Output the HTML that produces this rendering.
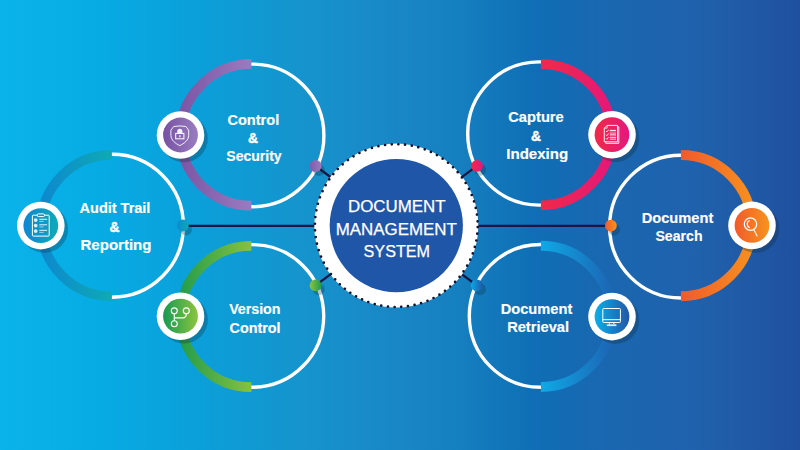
<!DOCTYPE html><html><head><meta charset="utf-8"><title>Document Management System</title><style>html,body{margin:0;padding:0;width:800px;height:450px;overflow:hidden;background:#1a80c0;}text{font-family:"Liberation Sans",sans-serif;fill:#fff;}</style></head><body><svg width="800" height="450" viewBox="0 0 800 450" style="display:block;font-family:'Liberation Sans',sans-serif;fill:#fff"><defs><linearGradient id="bg" x1="0" y1="0" x2="1" y2="0"><stop offset="0" stop-color="#0ab3ea"/><stop offset="0.125" stop-color="#07abe4"/><stop offset="0.25" stop-color="#0b9fd9"/><stop offset="0.375" stop-color="#1594cd"/><stop offset="0.5" stop-color="#1986c5"/><stop offset="0.57" stop-color="#1580c0"/><stop offset="0.67" stop-color="#0f6eb5"/><stop offset="0.76" stop-color="#1a67b0"/><stop offset="0.875" stop-color="#2061ac"/><stop offset="0.93" stop-color="#205aa6"/><stop offset="1" stop-color="#1f50a0"/></linearGradient><linearGradient id="gPur" gradientUnits="userSpaceOnUse" x1="175.2" y1="0" x2="251.4" y2="0"><stop offset="0" stop-color="#7853a3"/><stop offset="1" stop-color="#9b7bbf"/></linearGradient><linearGradient id="gTeal" gradientUnits="userSpaceOnUse" x1="35.7" y1="0" x2="111.9" y2="0"><stop offset="0" stop-color="#0d86d0"/><stop offset="1" stop-color="#0eaab4"/></linearGradient><linearGradient id="gGrn" gradientUnits="userSpaceOnUse" x1="175.2" y1="0" x2="251.4" y2="0"><stop offset="0" stop-color="#1d9a4c"/><stop offset="1" stop-color="#86c140"/></linearGradient><linearGradient id="gPink" gradientUnits="userSpaceOnUse" x1="540.9" y1="0" x2="617.1" y2="0"><stop offset="0" stop-color="#ef2a48"/><stop offset="1" stop-color="#e3177c"/></linearGradient><linearGradient id="gOrg" gradientUnits="userSpaceOnUse" x1="680.9" y1="0" x2="757.1" y2="0"><stop offset="0" stop-color="#f15a2b"/><stop offset="1" stop-color="#f7941d"/></linearGradient><linearGradient id="gBlu" gradientUnits="userSpaceOnUse" x1="540.9" y1="0" x2="617.1" y2="0"><stop offset="0" stop-color="#0fa9e6"/><stop offset="1" stop-color="#1d60b0"/></linearGradient><linearGradient id="iPur" x1="0" y1="0" x2="1" y2="0"><stop offset="0" stop-color="#7652a2"/><stop offset="1" stop-color="#9a7dc0"/></linearGradient><linearGradient id="iTeal" x1="0" y1="0" x2="1" y2="0"><stop offset="0" stop-color="#1186d2"/><stop offset="1" stop-color="#0faab6"/></linearGradient><linearGradient id="iGrn" x1="0" y1="0" x2="1" y2="0"><stop offset="0" stop-color="#169a52"/><stop offset="1" stop-color="#8cc43f"/></linearGradient><linearGradient id="iPink" x1="0" y1="0" x2="1" y2="0"><stop offset="0" stop-color="#ef2a48"/><stop offset="1" stop-color="#e5177c"/></linearGradient><linearGradient id="iOrg" x1="0" y1="0" x2="1" y2="0"><stop offset="0" stop-color="#f05a2b"/><stop offset="1" stop-color="#f7941d"/></linearGradient><linearGradient id="iBlu" x1="0" y1="0" x2="1" y2="0"><stop offset="0" stop-color="#0aafe9"/><stop offset="1" stop-color="#2357a8"/></linearGradient><linearGradient id="dPur" x1="0" y1="0" x2="1" y2="0"><stop offset="0" stop-color="#7f5aab"/><stop offset="1" stop-color="#9a7cc0"/></linearGradient><linearGradient id="dPink" x1="0" y1="0" x2="1" y2="0"><stop offset="0" stop-color="#ef2a48"/><stop offset="1" stop-color="#e3177c"/></linearGradient><linearGradient id="dGrn" x1="0" y1="0" x2="1" y2="0"><stop offset="0" stop-color="#8cc43f"/><stop offset="1" stop-color="#1d9a4c"/></linearGradient><linearGradient id="dBlu" x1="0" y1="0" x2="1" y2="0"><stop offset="0" stop-color="#0aa9e6"/><stop offset="1" stop-color="#2258a8"/></linearGradient><linearGradient id="dTeal" x1="0" y1="0" x2="1" y2="0"><stop offset="0" stop-color="#0a8ad2"/><stop offset="1" stop-color="#10a9b6"/></linearGradient><linearGradient id="dOrg" x1="0" y1="0" x2="1" y2="0"><stop offset="0" stop-color="#f15a2b"/><stop offset="1" stop-color="#f7941d"/></linearGradient><filter id="blur1" x="-50%" y="-50%" width="200%" height="200%"><feGaussianBlur stdDeviation="0.8"/></filter></defs><rect x="0" y="0" width="800" height="450" fill="url(#bg)"/>
<line x1="182.8" y1="225.8" x2="610.9" y2="225.8" stroke="#1b1540" stroke-width="2.2"/>
<line x1="315.6" y1="166.0" x2="396.3" y2="225.6" stroke="#1b1540" stroke-width="2.3"/>
<line x1="477.0" y1="165.8" x2="396.3" y2="225.6" stroke="#1b1540" stroke-width="2.3"/>
<line x1="315.6" y1="285.3" x2="396.3" y2="225.6" stroke="#1b1540" stroke-width="2.3"/>
<line x1="476.8" y1="285.3" x2="396.3" y2="225.6" stroke="#1b1540" stroke-width="2.3"/>
<circle cx="252.6" cy="135.4" r="71.3" fill="none" stroke="#fff" stroke-width="3.4"/>
<path d="M251.4,63.90 A70.90,70.90 0 0 0 251.4,205.70" fill="none" stroke="url(#gPur)" stroke-width="9.8"/>
<circle cx="111.9" cy="225.75" r="71.5" fill="none" stroke="#fff" stroke-width="3.4"/>
<path d="M111.9,154.90 A70.70,70.70 0 0 0 111.9,296.30" fill="none" stroke="url(#gTeal)" stroke-width="9.8"/>
<circle cx="252.4" cy="315.9" r="71.3" fill="none" stroke="#fff" stroke-width="3.4"/>
<path d="M251.4,245.80 A70.70,70.70 0 0 0 251.4,387.20" fill="none" stroke="url(#gGrn)" stroke-width="9.8"/>
<circle cx="539.3" cy="133.5" r="71.6" fill="none" stroke="#fff" stroke-width="3.4"/>
<path d="M540.9,64.10 A70.60,70.60 0 0 1 540.9,205.30" fill="none" stroke="url(#gPink)" stroke-width="9.8"/>
<circle cx="681.0" cy="226.6" r="71.4" fill="none" stroke="#fff" stroke-width="3.4"/>
<path d="M680.9,155.00 A70.62,70.62 0 0 1 680.9,296.25" fill="none" stroke="url(#gOrg)" stroke-width="9.8"/>
<circle cx="540.7" cy="315.9" r="71.4" fill="none" stroke="#fff" stroke-width="3.4"/>
<path d="M540.9,245.75 A70.62,70.62 0 0 1 540.9,387.00" fill="none" stroke="url(#gBlu)" stroke-width="9.8"/>
<circle cx="396.3" cy="225.6" r="82.0" fill="#fff"/>
<circle cx="396.3" cy="225.6" r="81.4" fill="none" stroke="#15112e" stroke-width="2.7" stroke-linecap="round" stroke-dasharray="0 6.7296" stroke-dashoffset="-1.5"/>
<circle cx="396.3" cy="225.6" r="66.6" fill="#1f56a7"/>
<circle cx="318.8" cy="170.0" r="5.9" fill="#102a3a" fill-opacity="0.28"/>
<circle cx="315.6" cy="166.0" r="5.9" fill="url(#dPur)"/>
<circle cx="480.2" cy="169.8" r="5.9" fill="#102a3a" fill-opacity="0.28"/>
<circle cx="477.0" cy="165.8" r="5.9" fill="url(#dPink)"/>
<circle cx="318.8" cy="289.3" r="5.9" fill="#102a3a" fill-opacity="0.28"/>
<circle cx="315.6" cy="285.3" r="5.9" fill="url(#dGrn)"/>
<circle cx="480.0" cy="289.3" r="5.9" fill="#102a3a" fill-opacity="0.28"/>
<circle cx="476.8" cy="285.3" r="5.9" fill="url(#dBlu)"/>
<circle cx="186.0" cy="229.5" r="5.9" fill="#102a3a" fill-opacity="0.28"/>
<circle cx="182.8" cy="225.5" r="5.9" fill="url(#dTeal)"/>
<circle cx="614.1" cy="229.6" r="5.9" fill="#102a3a" fill-opacity="0.28"/>
<circle cx="610.9" cy="225.6" r="5.9" fill="url(#dOrg)"/>
<circle cx="184.0" cy="138.5" r="23.8" fill="#102a3a" fill-opacity="0.3"/>
<circle cx="180.5" cy="135.0" r="23.8" fill="#fff"/>
<circle cx="180.5" cy="135.0" r="17.4" fill="url(#iPur)"/>
<path d="M173.70,126.50 Q179.80,125.40 185.90,126.50 L188.70,130.20 L188.70,135.20 C188.70,140.20 184.00,143.60 179.80,145.60 C175.60,143.60 170.90,140.20 170.90,135.20 L170.90,130.20 Z" fill="none" stroke="#fff" stroke-width="0.9" stroke-linejoin="round"/><path d="M177.20,133.20 L177.20,131.40 A2.6,2.6 0 0 1 182.40,131.40 L182.40,133.20 Z" fill="#fff" fill-opacity="0.9"/><rect x="175.70" y="133.40" width="8.2" height="5.4" fill="none" stroke="#fff" stroke-width="1"/><rect x="179.30" y="135.20" width="1.2" height="2.1" fill="#fff"/>
<circle cx="44.3" cy="229.1" r="23.8" fill="#102a3a" fill-opacity="0.3"/>
<circle cx="40.8" cy="225.6" r="23.8" fill="#fff"/>
<circle cx="40.8" cy="225.6" r="17.4" fill="url(#iTeal)"/>
<rect x="32.40" y="215.20" width="16.8" height="20.9" rx="0.8" fill="none" stroke="#fff" stroke-width="1"/><rect x="37.20" y="213.90" width="7.3" height="2.7" rx="1.1" fill="#1391c8" stroke="#fff" stroke-width="1"/><circle cx="35.70" cy="220.10" r="1.85" fill="#fff" fill-opacity="0.85"/><line x1="39.30" y1="219.30" x2="47.10" y2="219.30" stroke="#fff" stroke-width="0.9"/><line x1="39.30" y1="221.40" x2="43.70" y2="221.40" stroke="#fff" stroke-width="0.8" stroke-opacity="0.7"/><circle cx="35.70" cy="225.60" r="1.85" fill="#fff" fill-opacity="0.85"/><line x1="39.30" y1="224.80" x2="47.10" y2="224.80" stroke="#fff" stroke-width="0.9"/><line x1="39.30" y1="226.90" x2="43.70" y2="226.90" stroke="#fff" stroke-width="0.8" stroke-opacity="0.7"/><circle cx="35.70" cy="231.10" r="1.85" fill="#fff" fill-opacity="0.85"/><line x1="39.30" y1="230.30" x2="47.10" y2="230.30" stroke="#fff" stroke-width="0.9"/><line x1="39.30" y1="232.40" x2="43.70" y2="232.40" stroke="#fff" stroke-width="0.8" stroke-opacity="0.7"/>
<circle cx="184.0" cy="319.7" r="23.8" fill="#102a3a" fill-opacity="0.3"/>
<circle cx="180.5" cy="316.2" r="23.8" fill="#fff"/>
<circle cx="180.5" cy="316.2" r="17.4" fill="url(#iGrn)"/>
<circle cx="174.30" cy="310.80" r="3.0" fill="none" stroke="#fff" stroke-width="1.15"/><circle cx="186.30" cy="310.80" r="3.0" fill="none" stroke="#fff" stroke-width="1.15"/><circle cx="174.30" cy="323.70" r="3.0" fill="none" stroke="#fff" stroke-width="1.15"/><path d="M174.30,313.80 L174.30,320.70" fill="none" stroke="#fff" stroke-width="1.15"/><path d="M186.30,313.80 Q186.30,317.90 182.70,317.90 L174.30,317.90" fill="none" stroke="#fff" stroke-width="1.15"/>
<circle cx="615.5" cy="138.2" r="23.8" fill="#102a3a" fill-opacity="0.3"/>
<circle cx="612.0" cy="134.7" r="23.8" fill="#fff"/>
<circle cx="612.0" cy="134.7" r="17.4" fill="url(#iPink)"/>
<path d="M605.7,141.8 L605.7,143.3 L618.8,143.3 L618.8,126.8 L617.5,126.8" fill="none" stroke="#fff" stroke-width="0.9"/><path d="M607.1,125.4 L617.5,125.4 L617.5,141.8 L604.3,141.8 L604.3,128.2 Z" fill="none" stroke="#fff" stroke-width="0.9"/><path d="M604.3,128.2 L607.1,128.2 L607.1,125.4" fill="none" stroke="#fff" stroke-width="0.7"/><path d="M606.0,131.0 L606.9,131.9 L608.6,129.8" fill="none" stroke="#fff" stroke-width="0.9"/><line x1="609.8" y1="130.4" x2="616.0" y2="130.4" stroke="#fff" stroke-width="1"/><line x1="609.8" y1="132.1" x2="616.0" y2="132.1" stroke="#fff" stroke-width="0.7" stroke-opacity="0.75"/><path d="M606.0,134.7 L606.9,135.6 L608.6,133.5" fill="none" stroke="#fff" stroke-width="0.9"/><line x1="609.8" y1="134.1" x2="616.0" y2="134.1" stroke="#fff" stroke-width="1"/><line x1="609.8" y1="135.8" x2="616.0" y2="135.8" stroke="#fff" stroke-width="0.7" stroke-opacity="0.75"/><path d="M606.0,138.4 L606.9,139.3 L608.6,137.2" fill="none" stroke="#fff" stroke-width="0.9"/><line x1="609.8" y1="137.8" x2="616.0" y2="137.8" stroke="#fff" stroke-width="1"/><line x1="609.8" y1="139.5" x2="616.0" y2="139.5" stroke="#fff" stroke-width="0.7" stroke-opacity="0.75"/>
<circle cx="755.5" cy="228.9" r="23.8" fill="#102a3a" fill-opacity="0.3"/>
<circle cx="752.0" cy="225.4" r="23.8" fill="#fff"/>
<circle cx="752.0" cy="225.4" r="17.4" fill="url(#iOrg)"/>
<circle cx="750.5" cy="224.1" r="6.2" fill="none" stroke="#fff" stroke-width="1.2"/><path d="M749.6,220.5 A3.9,3.9 0 0 0 749.6,227.7" fill="none" stroke="#fff" stroke-width="1.2"/><line x1="753.7" y1="229.5" x2="757.3" y2="236.3" fill="none" stroke="#fff" stroke-width="1.1"/>
<circle cx="615.5" cy="320.1" r="23.8" fill="#102a3a" fill-opacity="0.3"/>
<circle cx="612.0" cy="316.6" r="23.8" fill="#fff"/>
<circle cx="612.0" cy="316.6" r="17.4" fill="url(#iBlu)"/>
<rect x="602.8" y="308.5" width="17.6" height="14" rx="0.8" fill="none" stroke="#fff" stroke-width="1"/><line x1="602.8" y1="319.7" x2="620.4" y2="319.7" fill="none" stroke="#fff" stroke-width="1"/><path d="M609.4,322.5 L609.4,324.3 M613.8,322.5 L613.8,324.3" fill="none" stroke="#fff" stroke-width="1"/><rect x="606.8" y="324.3" width="9.6" height="1.8" fill="#fff" fill-opacity="0.85"/>
<text x="253.30" y="124.5" font-size="13.8" font-weight="bold" text-anchor="middle" stroke="#fff" stroke-width="0.15" textLength="51.77" lengthAdjust="spacingAndGlyphs">Control</text>
<text x="253.00" y="143.4" font-size="13.8" font-weight="bold" text-anchor="middle" stroke="#fff" stroke-width="0.4">&amp;</text>
<text x="254.00" y="161.4" font-size="13.8" font-weight="bold" text-anchor="middle" stroke="#fff" stroke-width="0.15" textLength="55.3" lengthAdjust="spacingAndGlyphs">Security</text>
<text x="115.00" y="213.1" font-size="13.8" font-weight="bold" text-anchor="middle" stroke="#fff" stroke-width="0.15" textLength="70.81" lengthAdjust="spacingAndGlyphs">Audit Trail</text>
<text x="114.50" y="231.6" font-size="13.8" font-weight="bold" text-anchor="middle" stroke="#fff" stroke-width="0.4">&amp;</text>
<text x="116.00" y="249.6" font-size="13.8" font-weight="bold" text-anchor="middle" stroke="#fff" stroke-width="0.15" textLength="70.94" lengthAdjust="spacingAndGlyphs">Reporting</text>
<text x="254.80" y="314.2" font-size="13.8" font-weight="bold" text-anchor="middle" stroke="#fff" stroke-width="0.15" textLength="51.35" lengthAdjust="spacingAndGlyphs">Version</text>
<text x="255.00" y="332.7" font-size="13.8" font-weight="bold" text-anchor="middle" stroke="#fff" stroke-width="0.15" textLength="50.93" lengthAdjust="spacingAndGlyphs">Control</text>
<text x="536.00" y="121.8" font-size="13.8" font-weight="bold" text-anchor="middle" stroke="#fff" stroke-width="0.15" textLength="55.5" lengthAdjust="spacingAndGlyphs">Capture</text>
<text x="536.00" y="140.6" font-size="13.8" font-weight="bold" text-anchor="middle" stroke="#fff" stroke-width="0.4">&amp;</text>
<text x="537.20" y="158.8" font-size="13.8" font-weight="bold" text-anchor="middle" stroke="#fff" stroke-width="0.15" textLength="61.9" lengthAdjust="spacingAndGlyphs">Indexing</text>
<text x="677.50" y="222.9" font-size="13.8" font-weight="bold" text-anchor="middle" stroke="#fff" stroke-width="0.15" textLength="71.56" lengthAdjust="spacingAndGlyphs">Document</text>
<text x="679.00" y="240.6" font-size="13.8" font-weight="bold" text-anchor="middle" stroke="#fff" stroke-width="0.15" textLength="47.08" lengthAdjust="spacingAndGlyphs">Search</text>
<text x="536.50" y="313.75" font-size="13.8" font-weight="bold" text-anchor="middle" stroke="#fff" stroke-width="0.15" textLength="71.56" lengthAdjust="spacingAndGlyphs">Document</text>
<text x="538.08" y="332.25" font-size="13.8" font-weight="bold" text-anchor="middle" stroke="#fff" stroke-width="0.15" textLength="61.83" lengthAdjust="spacingAndGlyphs">Retrieval</text>
<text x="396.80" y="211.9" font-size="15.6" font-weight="normal" text-anchor="middle" stroke="#fff" stroke-width="0.25" textLength="97.48" lengthAdjust="spacingAndGlyphs">DOCUMENT</text>
<text x="396.30" y="234.8" font-size="15.6" font-weight="normal" text-anchor="middle" stroke="#fff" stroke-width="0.25" textLength="121.13" lengthAdjust="spacingAndGlyphs">MANAGEMENT</text>
<text x="396.80" y="257.3" font-size="15.6" font-weight="normal" text-anchor="middle" stroke="#fff" stroke-width="0.25" textLength="66.43" lengthAdjust="spacingAndGlyphs">SYSTEM</text></svg></body></html>
